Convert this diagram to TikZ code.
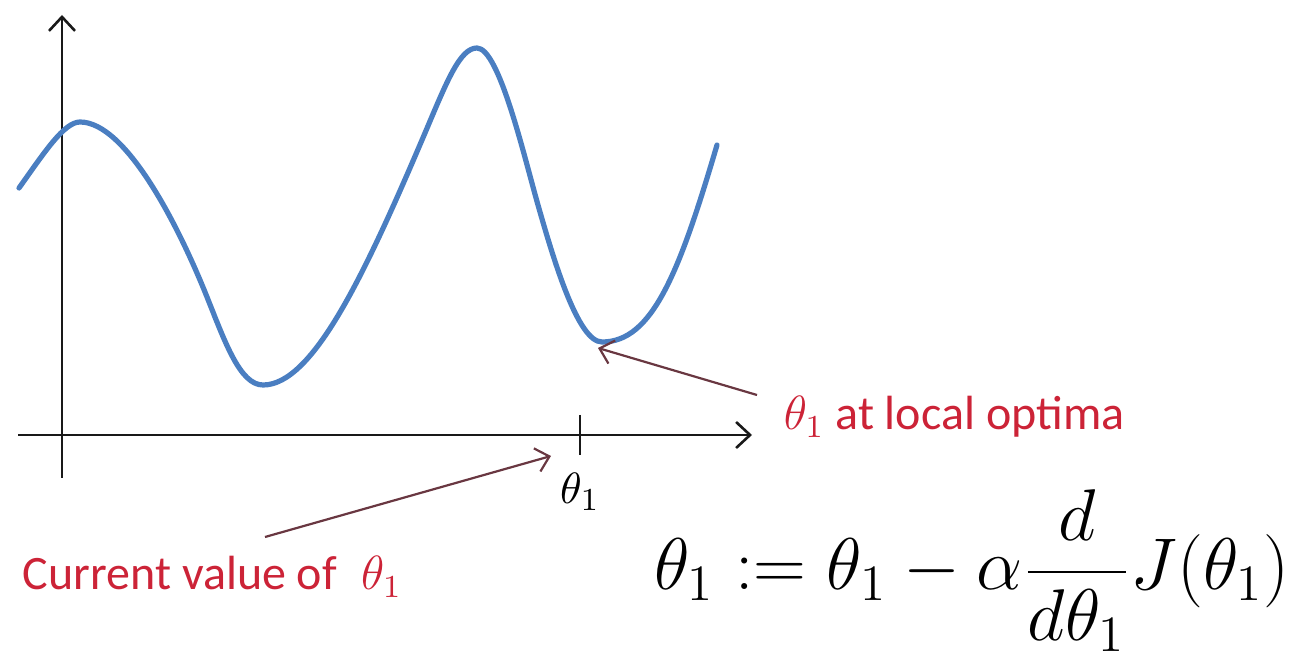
\documentclass[tikz,border=0pt]{standalone}
\usepackage{graphicx}
\usepackage{fontspec}
\newfontfamily\lblfont{Carlito}
\usetikzlibrary{arrows.meta}
\definecolor{curveblue}{RGB}{74,126,193}
\definecolor{lblred}{RGB}{204,35,55}
\definecolor{ptrcol}{RGB}{105,55,65}
\definecolor{axiscol}{RGB}{25,25,25}
\begin{document}
\begin{tikzpicture}[x=0.25pt,y=-0.25pt,
  axisline/.style={draw=axiscol, line width=0.65pt, -{Straight Barb[length=3.5pt,width=6.5pt,line width=0.65pt]}},
  ticklineb/.style={draw=axiscol, line width=0.55pt},
  curveline/.style={draw=curveblue, line width=1.3pt, line cap=round, line join=round},
  pointer/.style={draw=ptrcol, line width=0.55pt, -{Straight Barb[length=3.2pt,width=6pt,line width=0.55pt]}},
  lbltext/.style={text=lblred, font=\lblfont\fontsize{12}{14}\selectfont, inner sep=0pt},
  formula/.style={font=\fontsize{17.28}{20}\selectfont, inner sep=0pt},
  ticktext/.style={font=\fontsize{10.95}{12}\selectfont, inner sep=0pt}]
\useasboundingbox (0,0) rectangle (1299,663);
% axes
\coordinate (ybot) at (62,478);
\coordinate (ytop) at (62,15);
\coordinate (xleft) at (18,435);
\coordinate (xright) at (752,435);
\draw[axisline] (ybot) -- (ytop);
\draw[axisline] (xleft) -- (xright);
% tick
\coordinate (tka) at (580,415);
\coordinate (tkb) at (580,455);
\draw[ticklineb] (tka) -- (tkb);
\node[ticktext] (tlabel) at (580,492) {$\theta_1$};
% curve
\draw[curveline] (19,188)
  .. controls (44,153) and (64,122) .. (80,122)
  .. controls (125,122) and (177,222) .. (207,297)
  .. controls (225,342) and (240,385) .. (263,385)
  .. controls (313,385) and (365,274) .. (425,133)
  .. controls (447,81) and (460,48) .. (477,48)
  .. controls (499,48) and (524,156) .. (538,205)
  .. controls (554,261) and (578,342) .. (602,342)
  .. controls (652,342) and (679,274) .. (717,145);
% labels
\node[lbltext, anchor=base west] (lopt) at (783,430) {$\theta_1$ at local optima};
\node[lbltext, anchor=base west] (cval) at (22,590) {Current value of\; $\theta_1$};
\node[formula, anchor=base] (upd) at (972,590) {\scalebox{1.06}{$\displaystyle \theta_1 := \theta_1 - \alpha\frac{d}{d\theta_1}J(\theta_1)$}};
% pointers
\coordinate (lotail) at (757,395);
\coordinate (lotip) at (598,348);
\coordinate (cvtail) at (265,537);
\coordinate (cvtip) at (551,456);
\draw[pointer] (lotail) -- (lotip);
\draw[pointer] (cvtail) -- (cvtip);
\end{tikzpicture}
\end{document}
